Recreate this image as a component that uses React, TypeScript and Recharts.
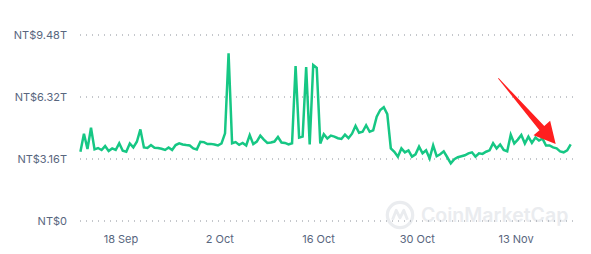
import { LineChart, Line, XAxis, YAxis, CartesianGrid, ReferenceLine } from 'recharts';

// market cap in trillions NT$, one value every 12h starting 12 Sep
const startDay = 11.25; // days since 1 Sep
const stepDays = 0.5;
const marketCap = [
  3.53, 4.45, 3.67, 4.75, 3.65, 3.72, 3.62, 3.82, 3.57, 3.7,
  3.62, 3.96, 3.58, 3.53, 3.95, 3.75, 4.04, 4.67, 3.75, 3.72,
  3.87, 3.73, 3.72, 3.68, 3.62, 3.75, 3.62, 3.87, 3.96, 3.9,
  3.87, 3.85, 3.7, 3.65, 4.04, 4.02, 3.92, 3.93, 3.9, 3.85,
  3.95, 4.47, 8.55, 3.96, 4.02, 3.88, 3.98, 3.85, 4.38, 3.92,
  4.05, 4.35, 4.15, 3.98, 4.0, 4.05, 4.28, 4.0, 3.98, 3.9,
  3.96, 7.9, 4.25, 4.3, 7.85, 3.9, 7.95, 7.8, 3.95, 4.42,
  4.2, 4.35, 4.3, 4.22, 4.18, 4.4, 4.22, 4.45, 4.85, 4.5,
  4.55, 4.88, 4.55, 4.62, 5.32, 5.66, 5.8, 5.45, 3.7, 3.53,
  3.28, 3.7, 3.5, 3.6, 3.28, 3.4, 3.79, 3.45, 3.6, 3.19,
  3.85, 3.3, 3.4, 3.55, 3.25, 2.94, 3.15, 3.25, 3.3, 3.35,
  3.45, 3.5, 3.28, 3.45, 3.42, 3.53, 3.6, 3.96, 3.7, 3.9,
  3.62, 3.55, 4.4, 3.95, 4.15, 4.38, 3.95, 4.3, 3.98, 4.25,
  4.1, 4.2, 3.85, 3.85, 3.75, 3.7, 3.55, 3.5, 3.6, 3.9,
];

const xTicks = [17, 31, 45, 59, 73];
const xTickLabels = ['18 Sep', '2 Oct', '16 Oct', '30 Oct', '13 Nov'];
const yTicks = [0, 3.16, 6.32, 9.48];
const yTickLabels = ['NT$0', 'NT$3.16T', 'NT$6.32T', 'NT$9.48T'];

// red annotation arrow, in data units (day, value)
const arrowFrom = { x: 70.49, y: 7.27 };
const arrowTo = { x: 78.62, y: 3.93 };

const data = marketCap.map((v, i) => ({ day: startDay + i * stepDays, value: v }));

const tickStyle = { fill: '#58667e', fontSize: 11, fontFamily: 'Inter, sans-serif' };

const ArrowShape = (props: any) => {
  const { x1, y1, x2, y2 } = props;
  const dx = x2 - x1;
  const dy = y2 - y1;
  const len = Math.sqrt(dx * dx + dy * dy);
  const ux = dx / len;
  const uy = dy / len;
  const nx = -uy;
  const ny = ux;
  const headLen = 21;
  const headHalf = 11;
  const bx = x2 - ux * headLen;
  const by = y2 - uy * headLen;
  const pts = [
    [x1 + nx * 0.4, y1 + ny * 0.4],
    [bx + nx * 3.2, by + ny * 3.2],
    [bx + nx * headHalf, by + ny * headHalf],
    [x2, y2],
    [bx - nx * headHalf, by - ny * headHalf],
    [bx - nx * 3.2, by - ny * 3.2],
    [x1 - nx * 0.4, y1 - ny * 0.4],
  ];
  return <polygon points={pts.map((p) => p.join(',')).join(' ')} fill="#ff1f1f" />;
};

export default function App() {
  return (
    <div style={{ position: 'absolute', left: 0, top: 0, width: 591, height: 254, background: '#fff', overflow: 'hidden' }}>
      <div
        style={{
          position: 'absolute',
          left: 385,
          top: 200,
          display: 'flex',
          alignItems: 'center',
          gap: 6,
          color: '#eaecef',
          fontFamily: 'Inter, sans-serif',
          fontWeight: 600,
          fontSize: 19.5,
          whiteSpace: 'nowrap',
        }}
      >
        <svg width={30} height={30} viewBox="0 0 32 32">
          <circle cx={16} cy={16} r={13.5} fill="none" stroke="#eaecef" strokeWidth={3.5} />
          <path d="M8 21 L12 11 L16 19 L20 11 L24 21" fill="none" stroke="#eaecef" strokeWidth={3} strokeLinejoin="round" />
        </svg>
        <span>CoinMarketCap</span>
      </div>
      <LineChart
        width={591}
        height={254}
        data={data}
        margin={{ top: 35, right: 15, left: 0, bottom: 0 }}
        style={{ position: 'absolute', left: 0, top: 0 }}
      >
        <CartesianGrid horizontal vertical={false} stroke="#8a8f98" strokeDasharray="1 5" />
        <XAxis
          dataKey="day"
          type="number"
          domain={[11.19, 81.5]}
          ticks={xTicks}
          tickFormatter={(v) => xTickLabels[xTicks.indexOf(v)] ?? ''}
          axisLine={false}
          tickLine={false}
          tickSize={0}
          tickMargin={14}
          height={33}
          tick={tickStyle}
          interval={0}
        />
        <YAxis
          type="number"
          domain={[0, 9.48]}
          ticks={yTicks}
          tickFormatter={(v) => yTickLabels[yTicks.indexOf(v)] ?? ''}
          axisLine={false}
          tickLine={false}
          tickSize={0}
          tickMargin={13}
          width={80}
          tick={tickStyle}
          interval={0}
        />
        <Line
          type="linear"
          dataKey="value"
          stroke="#16c784"
          strokeWidth={2.5}
          dot={false}
          isAnimationActive={false}
        />
        <ReferenceLine segment={[arrowFrom, arrowTo]} ifOverflow="visible" shape={ArrowShape} />
      </LineChart>
    </div>
  );
}
